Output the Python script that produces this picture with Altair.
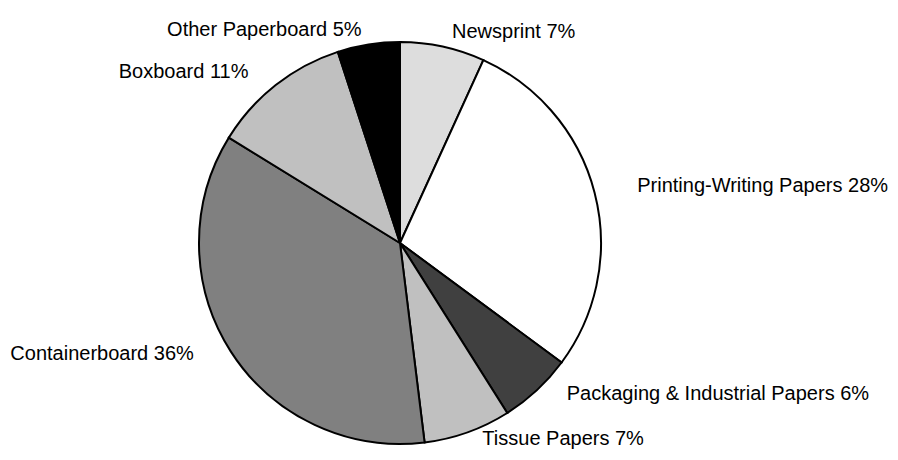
import math
import altair as alt
import pandas as pd

categories = ["Newsprint", "Printing-Writing Papers", "Packaging & Industrial Papers",
              "Tissue Papers", "Containerboard", "Boxboard", "Other Paperboard"]
values = [6.8, 28.3, 5.9, 7.0, 35.7, 11.2, 5.0]
pct_labels = ["7%", "28%", "6%", "7%", "36%", "11%", "5%"]
colors = ["#dddddd", "#ffffff", "#404040", "#c0c0c0", "#808080", "#c0c0c0", "#000000"]

total = sum(values)
cum = 0.0
mids = []
for v in values:
    mids.append(cum + v / 2)
    cum += v

df = pd.DataFrame({
    "category": categories,
    "value": values,
    "order": list(range(len(categories))),
    "label": [c + " " + p for c, p in zip(categories, pct_labels)],
    "mid": mids,
})
df["side"] = ["right" if m < total / 2 else "left" for m in mids]

# pie centre / radius and label ellipse (layout only)
CX, CY, R = 392, 235, 201
LCY, RX, RY = 231, 245, 212

base = alt.Chart(df)

pie = base.mark_arc(outerRadius=R, stroke="black", strokeWidth=2).encode(
    theta=alt.Theta("value:Q", stack=True),
    color=alt.Color("category:N", scale=alt.Scale(domain=categories, range=colors), legend=None),
    order=alt.Order("order:Q"),
    x=alt.value(CX),
    y=alt.value(CY),
)

lab = base.transform_calculate(
    ang=f"2*PI*datum.mid/{total}"
).transform_calculate(
    lx=f"{CX}+{RX}*sin(datum.ang)",
    ly=f"{LCY}-{RY}*cos(datum.ang)",
)

enc = dict(
    x=alt.X("lx:Q", scale=None, axis=None),
    y=alt.Y("ly:Q", scale=None, axis=None),
    text="label:N",
)

text_right = lab.transform_filter(alt.datum.side == "right").mark_text(
    align="left", baseline="middle", font="Liberation Sans", fontSize=20, color="black"
).encode(**enc)

text_left = lab.transform_filter(alt.datum.side == "left").mark_text(
    align="right", baseline="middle", font="Liberation Sans", fontSize=20, color="black"
).encode(**enc)

chart = alt.layer(pie, text_right, text_left).properties(
    width=882, height=444, autosize=alt.AutoSizeParams(type="none"), padding=0
).configure_view(stroke=None)

chart.save("out.html", embed_options={"renderer": "svg", "actions": False})
